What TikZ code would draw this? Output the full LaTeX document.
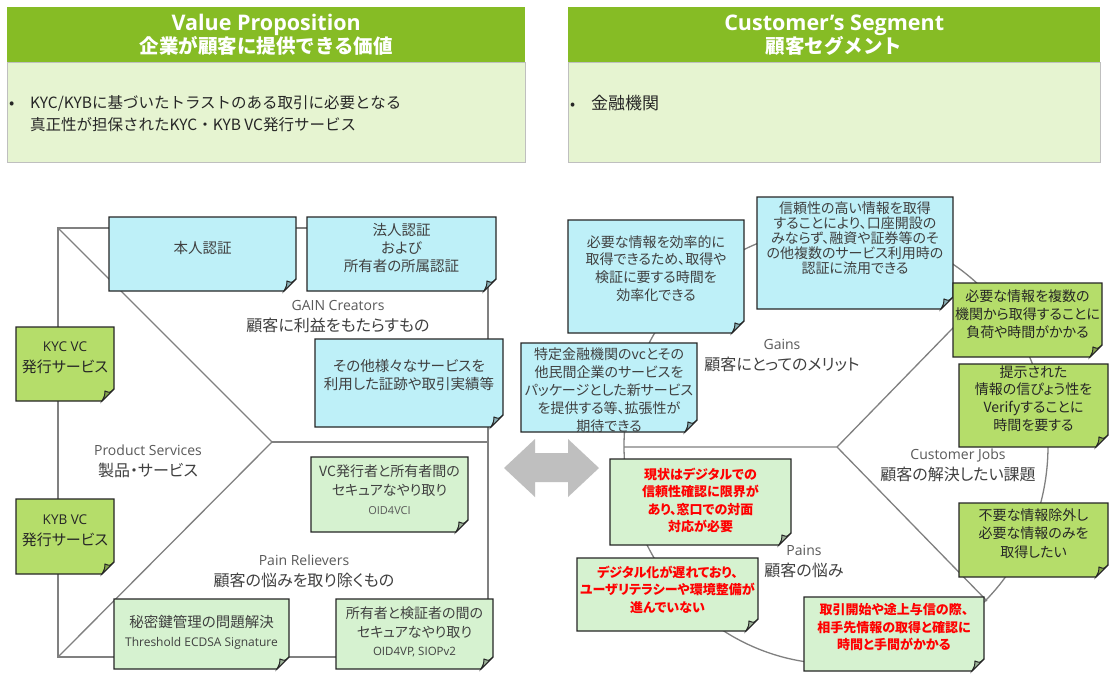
\documentclass[tikz,border=0pt]{standalone}
\usepackage{fontspec}
\setmainfont{Noto Sans CJK JP}[RawFeature={+palt}]
\newfontfamily\fwjp{Noto Sans CJK JP}
\newfontfamily\lat{Open Sans}
\usetikzlibrary{calc}
\definecolor{hdrgreen}{HTML}{86BC25}
\definecolor{bodygreen}{HTML}{E6F4D1}
\definecolor{bodyborder}{HTML}{BFBFBF}
\definecolor{nblue}{HTML}{BEF0F8}
\definecolor{nbluefold}{HTML}{8DB3B9}
\definecolor{ngreen}{HTML}{B5DD6A}
\definecolor{ngreenfold}{HTML}{86A64E}
\definecolor{nlight}{HTML}{D6F2D0}
\definecolor{nlightfold}{HTML}{9FB59B}
\definecolor{notebd}{HTML}{262626}
\definecolor{canvas}{HTML}{808080}
\definecolor{arrowgray}{HTML}{BFBFBF}
\definecolor{txtgray}{HTML}{404040}
\definecolor{lblgray}{HTML}{595959}
\definecolor{redtxt}{HTML}{FF0000}
\tikzset{
  canvasline/.style={draw=canvas, line width=1.3pt},
  notebody/.style={draw=notebd, line width=1.3pt, line join=miter},
  notetext/.style={align=center, inner sep=0pt, text=txtgray, font=\fontsize{14.5}{18}\selectfont},
  darktext/.style={text=black!85},
  redtext/.style={text=redtxt, font=\bfseries\fontsize{13}{17.5}\selectfont},
  hdr/.style={fill=hdrgreen, text=white, align=center, inner sep=0pt, font=\fwjp\bfseries\fontsize{19.5}{23}\selectfont},
  bodybox/.style={fill=bodygreen, draw=bodyborder, line width=0.8pt},
  lbl/.style={align=center, inner sep=0pt, text=txtgray, font=\fontsize{16}{21}\selectfont},
}
\newcommand\lblen[1]{{\lat\fontsize{14}{15}\selectfont\color{lblgray}#1}}
\newcommand\stickynote[6][]{%
  \coordinate (#2-nw) at #4;
  \coordinate (#2-se) at #5;
  \filldraw[notebody, fill=#3] (#2-nw) -- (#2-nw -| #2-se) -- ([yshift=12pt]#2-se) -- ([xshift=-12pt]#2-se) -- (#2-se -| #2-nw) -- cycle;
  \filldraw[notebody, fill=#3fold, line width=1pt] ([xshift=-12pt]#2-se) .. controls ([xshift=-9pt,yshift=6pt]#2-se) .. ([xshift=-9pt,yshift=10pt]#2-se) .. controls ([xshift=-4pt,yshift=8pt]#2-se) .. ([yshift=12pt]#2-se) -- cycle;
  \node[notetext,#1] (#2) at ($(#2-nw)!0.5!(#2-se)$) {#6};
}
\begin{document}
\begin{tikzpicture}[x=1pt,y=-1pt]
\useasboundingbox[fill=white] (0,0) rectangle (1113,673);

% ---------- headers ----------
\node[hdr, anchor=north west, minimum width=518pt, minimum height=55pt] (vph) at (7,7) {{\lat\bfseries\fontsize{21.5}{23}\selectfont Value Proposition}\\企業が顧客に提供できる価値};
\node[bodybox, anchor=north west, minimum width=518pt, minimum height=100pt] (vpb) at (7,62) {};
\node[anchor=west, align=left, inner sep=0pt, text=black!85, font=\fwjp\fontsize{15.5}{22}\selectfont] (vpt) at (9,114)
  {\makebox[21pt][l]{•}KYC/KYBに基づいたトラストのある取引に必要となる\\\hspace*{21pt}真正性が担保されたKYC・KYB VC発行サービス};

\node[hdr, anchor=north west, minimum width=532pt, minimum height=55pt] (csh) at (568,7) {{\lat\bfseries\fontsize{21.5}{23}\selectfont Customer’s Segment}\\顧客セグメント};
\node[bodybox, anchor=north west, minimum width=532pt, minimum height=100pt] (csb) at (568,62) {};
\node[anchor=west, align=left, inner sep=0pt, text=black!85, font=\fwjp\fontsize{17}{22}\selectfont] (cst) at (570,103)
  {\makebox[21pt][l]{\fontsize{15}{22}\selectfont •}金融機関};

% ---------- left canvas (value map) ----------
\coordinate (sqnw) at (58,228);
\coordinate (sqse) at (488,657);
\coordinate (chev) at (272,442);
\draw[canvasline] (sqnw) rectangle (sqse);
\draw[canvasline] (sqnw) -- (chev) -- (sqse -| sqnw);
\draw[canvasline] (chev) -- (chev -| sqse);

% ---------- right canvas (customer profile) ----------
\coordinate (cc) at (836,446);
\coordinate (cleft) at (624,447);
\coordinate (cchev) at (837,447);
\coordinate (cup) at (987,293);
\coordinate (cdown) at (987,601);
\draw[canvasline] (cc) ellipse [x radius=212, y radius=218];
\draw[canvasline] (cleft) -- (cchev) -- (cup);
\draw[canvasline] (cchev) -- (cdown);

% ---------- double arrow ----------
\fill[arrowgray] (504,468) -- (535,439) -- (535,453) -- (568,453) -- (568,439) -- (599,468)
  -- (568,497) -- (568,482) -- (535,482) -- (535,497) -- cycle;

% ---------- left notes ----------
\stickynote[yshift=6pt]{honnin}{nblue}{(109,217)}{(296,291)}{本人認証}
\stickynote[yshift=6pt]{houjin}{nblue}{(307,217)}{(496,291)}{法人認証\\および\\所有者の所属認証}
\stickynote[yshift=8pt]{sonota}{nblue}{(315,339)}{(503,427)}{その他様々なサービスを\\利用した証跡や取引実績等}
\stickynote[yshift=6pt, darktext, font=\fontsize{15}{21}\selectfont]{kyc}{ngreen}{(16,327)}{(114,401)}{{\lat\fontsize{13.5}{21}\selectfont KYC VC}\\発行サービス}
\stickynote[yshift=6pt, darktext, font=\fontsize{15}{21}\selectfont]{kyb}{ngreen}{(16,499)}{(114,574)}{{\lat\fontsize{13.5}{21}\selectfont KYB VC}\\発行サービス}
\stickynote[yshift=5pt, font=\fontsize{14}{19}\selectfont]{vci}{nlight}{(311,457)}{(468,532)}{VC発行者と所有者間の\\セキュアなやり取り\\{\lat\fontsize{11}{19}\selectfont\color{lblgray}OID4VCI}}
\stickynote[yshift=2pt, font=\fontsize{14.5}{19}\selectfont]{tss}{nlight}{(114,599)}{(289,669)}{秘密鍵管理の問題解決\\{\lat\fontsize{12}{19}\selectfont Threshold ECDSA Signature}}
\stickynote[yshift=2pt, font=\fontsize{14}{18.5}\selectfont]{oidvp}{nlight}{(336,599)}{(493,669)}{所有者と検証者の間の\\セキュアなやり取り\\{\lat\fontsize{11.5}{18.5}\selectfont OID4VP, SIOPv2}}

% ---------- left labels ----------
\node[lbl] (gainc) at (338,317) {\lblen{GAIN Creators}\\顧客に利益をもたらすもの};
\node[lbl] (prods) at (148,461) {\lblen{Product Services}\\製品・サービス};
\node[lbl] (painr) at (304,571) {\lblen{Pain Relievers}\\顧客の悩みを取り除くもの};

% ---------- right notes ----------
\stickynote[yshift=8pt, font=\fontsize{14}{17.7}\selectfont]{eff}{nblue}{(568,220)}{(744,333)}{必要な情報を効率的に\\取得できるため、取得や\\検証に要する時間を\\効率化できる}
\stickynote[yshift=15pt, font=\fontsize{14}{15}\selectfont]{trust}{nblue}{(757,197)}{(953,309)}{信頼性の高い情報を取得\\することにより、口座開設の\\みならず、融資や証券等のそ\\の他複数のサービス利用時の\\認証に流用できる}
\stickynote[yshift=-2.5pt, font=\fontsize{14}{18}\selectfont]{pkg}{nblue}{(521,343)}{(697,432)}{特定金融機関のvcとその\\他民間企業のサービスを\\パッケージとした新サービス\\を提供する等、拡張性が\\期待できる}
\stickynote[yshift=6pt, darktext, font=\fontsize{14}{18}\selectfont]{multi}{ngreen}{(953,283)}{(1102,357)}{必要な情報を複数の\\機関から取得することに\\負荷や時間がかかる}
\stickynote[yshift=7pt, darktext, font=\fontsize{14}{17.7}\selectfont]{verify}{ngreen}{(959,364)}{(1108,447)}{提示された\\情報の信ぴょう性を\\Verifyすることに\\時間を要する}
\stickynote[yshift=6.5pt, darktext, font=\fontsize{14}{18.5}\selectfont]{exclude}{ngreen}{(959,503)}{(1108,577)}{不要な情報除外し\\必要な情報のみを\\取得したい}
\stickynote[yshift=1.5pt, redtext]{now}{nlight}{(610,459)}{(791,545)}{現状はデジタルでの\\信頼性確認に限界が\\あり、窓口での対面\\対応が必要}
\stickynote[yshift=5pt, redtext]{digi}{nlight}{(577,558)}{(758,631)}{デジタル化が遅れており、\\ユーザリテラシーや環境整備が\\進んでいない}
\stickynote[yshift=6.5pt, redtext]{deal}{nlight}{(804,597)}{(984,671)}{取引開始や途上与信の際、\\相手先情報の取得と確認に\\時間と手間がかかる}

% ---------- right labels ----------
\node[lbl] (gains) at (782,356) {\lblen{Gains}\\顧客にとってのメリット};
\node[lbl] (cjobs) at (958,465) {\lblen{Customer Jobs}\\顧客の解決したい課題};
\node[lbl] (pains) at (804,562) {\lblen{Pains}\\顧客の悩み};
\end{tikzpicture}
\end{document}
